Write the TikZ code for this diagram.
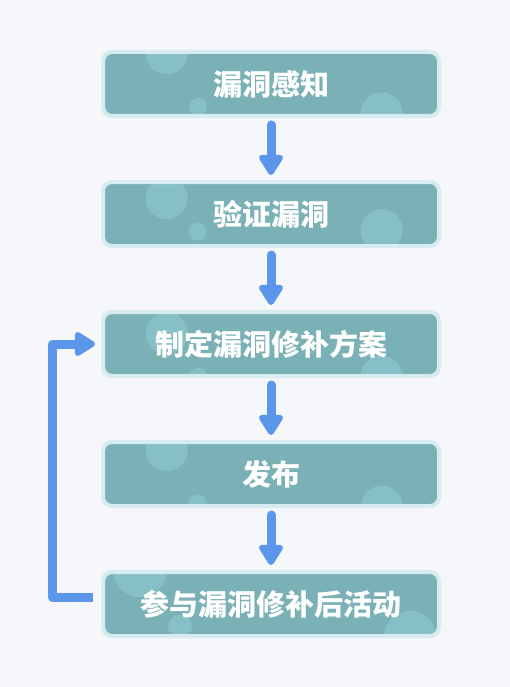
\documentclass[tikz,border=0pt]{standalone}
\usepackage{fontspec}
\newfontfamily\cjk{Noto Sans CJK SC}
\usetikzlibrary{arrows.meta}
\definecolor{bgc}{HTML}{F6F7FA}
\definecolor{boxfill}{HTML}{7AB1B6}
\definecolor{boxline}{HTML}{D6ECF1}
\definecolor{decoc}{HTML}{86BFC6}
\definecolor{arrowc}{HTML}{5B96EA}
\newcommand\dcirc[3]{\fill[decoc] ([shift={(#1,#2)}]path picture bounding box.center) circle[radius=#3pt];}
\tikzset{
  stepbox/.style={draw=boxline, line width=4pt, fill=boxfill, rounded corners=9pt,
    minimum width=336pt, minimum height=64pt, inner sep=0pt, text=white,
    font=\cjk\bfseries\fontsize{29}{29}\selectfont},
  flow/.style={draw=arrowc, line width=9pt, -{Triangle[width=27pt,length=23pt,round]}},
}
\begin{document}
\begin{tikzpicture}[x=1pt,y=-1pt]
\fill[bgc] (0,0) rectangle (510,687);
\useasboundingbox (0,0) rectangle (510,687);
\node[stepbox, path picture={\dcirc{-104.3}{-30.7}{21}\dcirc{-72.7}{22.7}{9}\dcirc{110.7}{29.3}{21}}] (b1) at (271,84) {漏洞感知};
\node[stepbox, path picture={\dcirc{-104.3}{-15.7}{21}\dcirc{-73.3}{17.7}{9}\dcirc{110.7}{16}{21}}] (b2) at (271,214) {验证漏洞};
\node[stepbox, path picture={\dcirc{-104.3}{-10.7}{21}\dcirc{-72.7}{32.7}{9}\dcirc{110.7}{32.7}{21}}] (b3) at (271,344) {制定漏洞修补方案};
\node[stepbox, path picture={\dcirc{-104.3}{-24}{21}\dcirc{-73.3}{29.3}{9}\dcirc{110.7}{32.7}{21}}] (b4) at (271,474) {发布};
\node[stepbox, path picture={\dcirc{-131}{-34}{27}\dcirc{-91}{22.7}{12}\dcirc{139}{32.7}{26}}] (b5) at (271,604) {参与漏洞修补后活动};
\foreach \a/\b in {b1/b2,b2/b3,b3/b4,b4/b5}
  \draw[flow, line cap=round] ([yshift=-7pt]\a.south) -- ([yshift=5pt]\b.north);
\coordinate (lx) at (52.5,0);
\coordinate (s) at ([shift={(-8pt,6.5pt)}]b5.west);
\coordinate (e) at ([xshift=-6pt]b3.west);
\draw[flow, line join=round] (s) -- (s -| lx) -- (lx |- e) -- (e);
\end{tikzpicture}
\end{document}
